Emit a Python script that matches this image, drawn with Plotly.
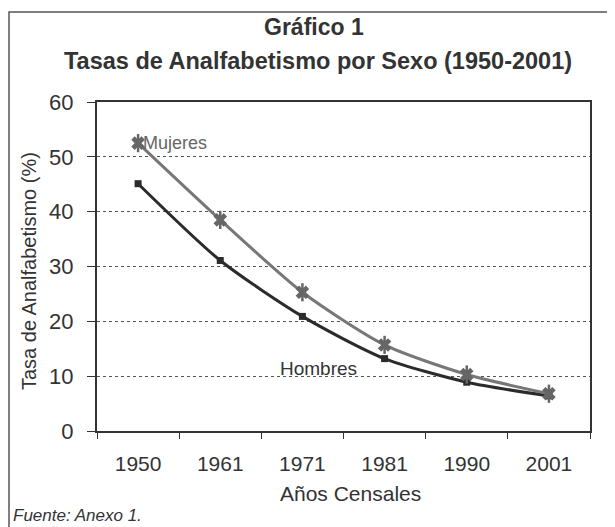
import plotly.graph_objects as go

years = ["1950", "1961", "1971", "1981", "1990", "2001"]
mujeres = [52.5, 38.5, 25.3, 15.7, 10.3, 6.8]
hombres = [45.1, 31.1, 20.9, 13.2, 8.9, 6.4]
y_ticks = [0, 10, 20, 30, 40, 50, 60]

FONT = "Liberation Sans, Arial, sans-serif"
OFF = 8  # page body margin offset
W, H = 615, 527
# plot area in page pixels: left 97, right 590, top 102, bottom 431
L, T = 97 - OFF, 102 - OFF
R = W - (590 - OFF)
B = H - (431 - OFF)
pw, ph = W - L - R, H - T - B

def px2x(px):
    return (px - OFF - L) / pw

def py2y(py):
    return (H - B - (py - OFF)) / ph

fig = go.Figure()
fig.add_trace(go.Scatter(
    x=years, y=hombres, mode="lines+markers", name="Hombres",
    line=dict(color="#2b2b2b", width=3, shape="spline", smoothing=0.7),
    marker=dict(symbol="square", size=7, color="#2b2b2b"),
))
fig.add_trace(go.Scatter(
    x=years, y=mujeres, mode="lines+markers", name="Mujeres",
    line=dict(color="#777777", width=3, shape="spline", smoothing=0.7),
    marker=dict(symbol="x", size=12, color="#666666"),
))
fig.add_trace(go.Scatter(
    x=years, y=mujeres, mode="markers", name="Mujeres", hoverinfo="skip",
    marker=dict(symbol="line-ns-open", size=13, color="#666666",
                line=dict(color="#666666", width=2.5)),
))

fig.update_layout(
    width=W, height=H,
    margin=dict(l=L, r=R, t=T, b=B),
    paper_bgcolor="white", plot_bgcolor="white",
    showlegend=False,
    font=dict(family=FONT, color="#333333", size=20),
    xaxis=dict(
        type="category", categoryorder="array", categoryarray=years,
        range=[-0.5, len(years) - 0.5], tickangle=0,
        tickson="boundaries", ticks="outside", ticklen=6, ticklabelstandoff=13,
        tickcolor="#333333", showline=True, linecolor="#333333", linewidth=2,
        mirror=True, showgrid=False, tickfont=dict(size=21, color="#333333"),
    ),
    yaxis=dict(
        range=[0, 60], tickvals=y_ticks, ticks="outside", ticklen=8, ticklabelstandoff=9,
        tickcolor="#333333", showline=True, linecolor="#333333", linewidth=2,
        mirror=True, showgrid=True, gridcolor="#555555", griddash="dot", gridwidth=1,
        tickfont=dict(size=22, color="#333333"), zeroline=False,
    ),
    annotations=[
        dict(text="<b>Gráfico 1</b>", xref="paper", yref="paper", x=px2x(314), y=py2y(27),
             showarrow=False, font=dict(size=23, color="#333333"), xanchor="center", yanchor="middle"),
        dict(text="<b>Tasas de Analfabetismo por Sexo (1950-2001)</b>", xref="paper", yref="paper",
             x=px2x(318), y=py2y(61), showarrow=False, font=dict(size=23.5, color="#333333"),
             xanchor="center", yanchor="middle"),
        dict(text="Tasa de Analfabetismo (%)", xref="paper", yref="paper", x=px2x(29), y=py2y(271),
             textangle=-90, showarrow=False, font=dict(size=20, color="#333333"),
             xanchor="center", yanchor="middle"),
        dict(text="Años Censales", xref="paper", yref="paper", x=px2x(350), y=py2y(493),
             showarrow=False, font=dict(size=21, color="#333333"), xanchor="center", yanchor="middle"),
        dict(text="<i>Fuente: Anexo 1.</i>", xref="paper", yref="paper", x=px2x(11), y=py2y(515),
             showarrow=False, font=dict(size=17, color="#333333"), xanchor="left", yanchor="middle"),
        dict(text="Mujeres", xref="paper", yref="paper", x=px2x(141), y=py2y(143), showarrow=False,
             font=dict(size=18, color="#666666"), xanchor="left", yanchor="middle"),
        dict(text="Hombres", xref="paper", yref="paper", x=px2x(278), y=py2y(368), showarrow=False,
             font=dict(size=19, color="#333333"), xanchor="left", yanchor="middle"),
    ],
    shapes=[
        dict(type="rect", xref="paper", yref="paper", x0=px2x(9), x1=px2x(650),
             y0=py2y(600), y1=py2y(12), line=dict(color="#555555", width=1.5)),
    ],
)

fig.write_html("out.html")
